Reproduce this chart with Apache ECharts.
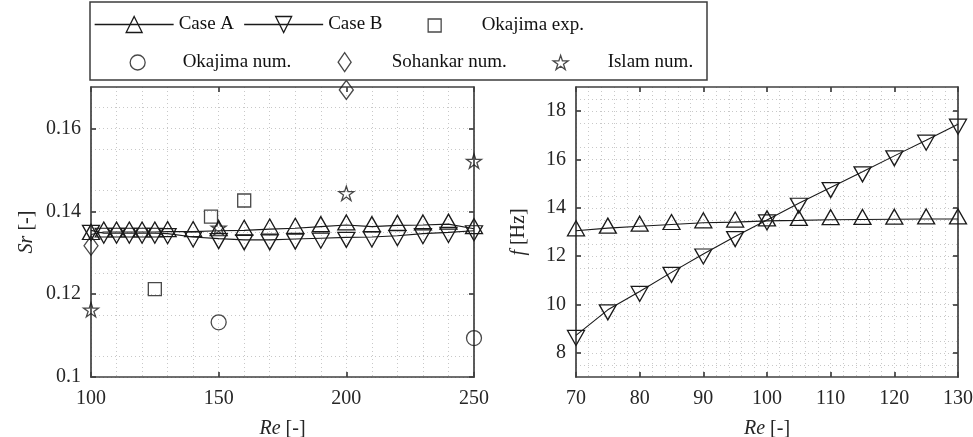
<!DOCTYPE html>
<html>
<head>
<meta charset="utf-8">
<script src="https://cdn.jsdelivr.net/npm/echarts@6/dist/echarts.min.js"></script>
<style>
html,body{margin:0;padding:0;background:#fff;}
#chart{width:973px;height:437px;}
</style>
</head>
<body>
<div id="chart"></div>
<script>
// ---- data ----
const reLeft   = [100,105,110,115,120,125,130,140,150,160,170,180,190,200,210,220,230,240,250];
const srCaseA  = [0.1344,0.1350,0.1350,0.1350,0.1350,0.1350,0.1351,0.1351,0.1353,0.1354,0.1357,0.1359,0.1363,0.1367,0.1363,0.1366,0.1367,0.1369,0.1358];
const srCaseB  = [0.1354,0.1347,0.1347,0.1347,0.1347,0.1347,0.1346,0.1338,0.1334,0.1331,0.1331,0.1333,0.1335,0.1337,0.1338,0.1341,0.1346,0.1349,0.1353];
const okaExpRe = [125,147,160];
const okaExpSr = [0.1212,0.1387,0.1426];
const okaNumRe = [150,250];
const okaNumSr = [0.1132,0.1094];
const sohRe    = [100,200];
const sohSr    = [0.1317,0.1693];
const islRe    = [100,150,200,250];
const islSr    = [0.1164,0.1362,0.1445,0.1523];

const reRight  = [70,75,80,85,90,95,100,105,110,115,120,125,130];
const fCaseA   = [13.05,13.16,13.24,13.31,13.38,13.41,13.46,13.48,13.51,13.52,13.53,13.54,13.54];
const fCaseB   = [8.72,9.78,10.54,11.33,12.09,12.81,13.50,14.19,14.84,15.49,16.15,16.80,17.46];

const srTicks  = [0.1,0.12,0.14,0.16];
const fTicks   = [8,10,12,14,16,18];

// ---- styles ----
const FONT = "'Liberation Serif','Times New Roman',serif";
const INK = '#1a1a1a';
const AX = '#404040';
const TXT = '#262626';
const SYM_DOWN = 'path://M0,0L100,0L50,88Z';
const SYM_SQ = 'path://M0,0L10,0L10,10L0,10Z';
const SYM_DIA = 'path://M0,95L65,0L130,95L65,190Z';
const SYM_STAR = 'path://M100,0L122.45,69.1L195.11,69.1L136.33,111.8L158.78,180.9L100,138.2L41.22,180.9L63.67,111.8L4.89,69.1L77.55,69.1Z';
const hollow = {color:'rgba(0,0,0,0)', borderColor:INK, borderWidth:1.3};

function zip(a,b){ return a.map((v,i)=>[v,b[i]]); }

const gridLine = {show:true, lineStyle:{color:'#c8c8c8', type:[1,3], width:1}};

function axisBase(o){
  return Object.assign({
    type:'value',
    axisLine:{show:true, onZero:false, lineStyle:{color:AX, width:1.7}},
    axisTick:{show:true, inside:true, length:5, lineStyle:{color:AX, width:1.7}},
    axisLabel:{show:true, fontFamily:FONT, fontSize:20, color:TXT},
    splitLine:{show:false},
    nameTextStyle:{fontFamily:FONT, fontSize:20, color:TXT,
      rich:{i:{fontStyle:'italic', fontFamily:FONT, fontSize:20, color:TXT}}}
  }, o);
}

function xPair(grid, min, max, interval, minorN){
  const main = axisBase({gridIndex:grid, position:'bottom', min, max, interval,
    name:'{i|Re} [-]', nameLocation:'middle', nameGap:42,
    minorTick:{show:false, splitNumber:minorN},
    splitLine:gridLine, minorSplitLine:gridLine});
  main.axisLabel = Object.assign({}, main.axisLabel, {margin:12});
  const top = axisBase({gridIndex:grid, position:'top', min, max, interval});
  top.axisLabel = {show:false};
  return [main, top];
}
function yPair(grid, min, max, interval, minorN, ticks, name, gap){
  const main = axisBase({gridIndex:grid, position:'left', min, max, interval,
    name, nameLocation:'middle', nameGap:gap,
    minorTick:{show:false, splitNumber:minorN},
    splitLine:gridLine, minorSplitLine:gridLine});
  main.axisLabel = Object.assign({}, main.axisLabel, {margin:10, customValues:ticks});
  main.axisTick = Object.assign({}, main.axisTick, {customValues:ticks});
  const right = axisBase({gridIndex:grid, position:'right', min, max, interval});
  right.axisLabel = {show:false};
  right.axisTick = Object.assign({}, right.axisTick, {customValues:ticks});
  return [main, right];
}

const xL = xPair(0, 100, 250, 50, 5);
const xR = xPair(1, 70, 130, 10, 5);
const yL = yPair(0, 0.1, 0.17, 0.01, 2, srTicks, '{i|Sr} [-]', 54);
const yR = yPair(1, 7, 19, 1, 2, fTicks, '{i|f} [Hz]', 47);

function lineSeries(name, xa, ya, xs, ys, symbol, off){
  return {name, type:'line', xAxisIndex:xa, yAxisIndex:ya, data:zip(xs,ys),
    symbol, symbolSize:[17,15], symbolOffset:[0,off], symbolKeepAspect:false,
    showSymbol:true, showAllSymbol:true, clip:false, silent:true, z:3,
    lineStyle:{color:INK, width:1.1}, itemStyle:hollow};
}
function scatterSeries(name, xs, ys, symbol, size, off){
  return {name, type:'scatter', xAxisIndex:0, yAxisIndex:0, data:zip(xs,ys),
    symbol, symbolSize:size, symbolKeepAspect:false, symbolOffset:[0, off||0],
    clip:false, silent:true, z:4, itemStyle:hollow};
}

function leg(name, left, top, w, h, padLeft){
  return {data:[name], left, top, itemWidth:w, itemHeight:h, padding:0,
    selectedMode:false, z:110, orient:'horizontal',
    textStyle:{fontFamily:FONT, fontSize:19, color:'#111', padding:[0,0,0,padLeft||0]},
    itemStyle:{color:'rgba(0,0,0,0)', borderColor:INK, borderWidth:1.3},
    lineStyle:{color:INK, width:1.3}};
}

const option = {
  animation:false,
  backgroundColor:'#fff',
  graphic:[{type:'rect', z:100, shape:{x:90, y:2, width:617, height:78},
    style:{fill:'#fff', stroke:'#3c3c3c', lineWidth:1.5}}],
  legend:[
    leg('Case A', 94, 15, 79, 20),
    leg('Case B', 243.5, 15, 79, 20),
    leg('Okajima exp.', 427.5, 16, 13, 13, 35.5),
    leg('Okajima num.', 129.5, 53, 15, 15, 32.5),
    leg('Sohankar num.', 337.5, 52, 13, 19, 35.5),
    leg('Islam num.', 552.5, 53, 15, 15, 34.5)
  ],
  grid:[{left:91, top:87, width:383, height:290, containLabel:false, outerBoundsMode:'none'},
        {left:576, top:87, width:382, height:290, containLabel:false, outerBoundsMode:'none'}],
  xAxis:[xL[0], xL[1], xR[0], xR[1]],
  yAxis:[yL[0], yL[1], yR[0], yR[1]],
  series:[
    lineSeries('Case A', 0, 0, reLeft, srCaseA, 'triangle', -2.5),
    lineSeries('Case B', 0, 0, reLeft, srCaseB, SYM_DOWN, 2.5),
    scatterSeries('Okajima exp.', okaExpRe, okaExpSr, SYM_SQ, [13,13]),
    scatterSeries('Okajima num.', okaNumRe, okaNumSr, 'circle', 15),
    scatterSeries('Sohankar num.', sohRe, sohSr, SYM_DIA, [14,19]),
    scatterSeries('Islam num.', islRe, islSr, SYM_STAR, [15,14.3], 0.7),
    lineSeries('Case A', 2, 2, reRight, fCaseA, 'triangle', -2.5),
    lineSeries('Case B', 2, 2, reRight, fCaseB, SYM_DOWN, 2.5)
  ]
};

const chart = echarts.init(document.getElementById('chart'), null, {renderer:'canvas'});
chart.setOption(option);
</script>
</body>
</html>
